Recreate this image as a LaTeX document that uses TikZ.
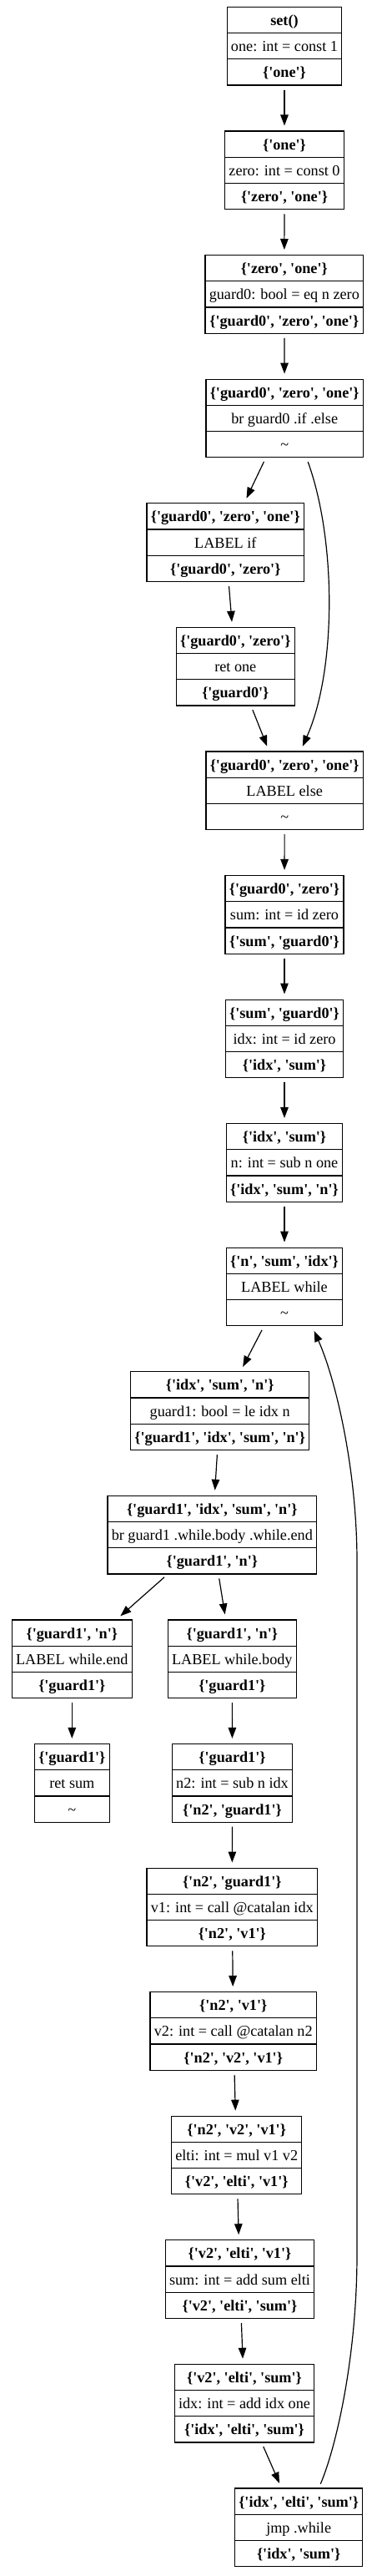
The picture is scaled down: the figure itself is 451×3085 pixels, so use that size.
\documentclass[tikz,border=0pt]{standalone}
\usepackage{fontspec}
\setmainfont{Liberation Serif}[Ligatures=TeXOff]
\usetikzlibrary{arrows.meta,shapes.multipart}
\def\rowstrut{\rule[-8.5pt]{0pt}{30pt}}
\newcommand{\rec}[3]{\rowstrut\textbf{#1}\nodepart{two}\rowstrut #2\nodepart{three}\rowstrut\textbf{#3}}

\begin{document}
\begin{tikzpicture}[x=1pt, y=1pt,
	record/.style={rectangle split, rectangle split parts=3, draw, line width=1.2pt, inner xsep=4.8pt, inner ysep=0pt, font=\fontsize{18.2}{22}\selectfont},
	edge/.style={line width=1.2pt, -{Triangle[length=13pt, width=9.5pt]}, shorten <=5pt, shorten >=6pt}]
		%%%%% START %%%%%
		
		\useasboundingbox (0, 0) rectangle (451, -3085);
		
		\node[record] (set0) at (341, -55.3) {\rec{set()}{one: int = const 1}{\{'one'\}}};
		\node[record] (one) at (341, -203.9) {\rec{\{'one'\}}{zero: int = const 0}{\{'zero', 'one'\}}};
		\node[record] (guardz) at (340.8, -352.4) {\rec{\{'zero', 'one'\}}{guard0: bool = eq n zero}{\{'guard0', 'zero', 'one'\}}};
		\node[record] (brz) at (341.2, -501) {\rec{\{'guard0', 'zero', 'one'\}}{br guard0 .if .else}{\textmd{\textasciitilde}}};
		
		\node[record] (lif) at (270.3, -649.6) {\rec{\{'guard0', 'zero', 'one'\}}{LABEL if}{\{'guard0', 'zero'\}}};
		\node[record] (retone) at (282.3, -798.2) {\rec{\{'guard0', 'zero'\}}{ret one}{\{'guard0'\}}};
		\node[record] (lelse) at (341.2, -946.7) {\rec{\{'guard0', 'zero', 'one'\}}{LABEL else}{\textmd{\textasciitilde}}};
		
		\node[record] (sum) at (341, -1095.3) {\rec{\{'guard0', 'zero'\}}{sum: int = id zero}{\{'sum', 'guard0'\}}};
		\node[record] (idx) at (341, -1243.9) {\rec{\{'sum', 'guard0'\}}{idx: int = id zero}{\{'idx', 'sum'\}}};
		\node[record] (nsub) at (341, -1392.4) {\rec{\{'idx', 'sum'\}}{n: int = sub n one}{\{'idx', 'sum', 'n'\}}};
		\node[record] (lwhile) at (341, -1541) {\rec{\{'n', 'sum', 'idx'\}}{LABEL while}{\textmd{\textasciitilde}}};
		
		\node[record] (guardo) at (263.7, -1689.6) {\rec{\{'idx', 'sum', 'n'\}}{guard1: bool = le idx n}{\{'guard1', 'idx', 'sum', 'n'\}}};
		\node[record] (bro) at (254.3, -1838.1) {\rec{\{'guard1', 'idx', 'sum', 'n'\}}{br guard1 .while.body .while.end}{\{'guard1', 'n'\}}};
		
		\node[record] (lend) at (86.3, -1986.7) {\rec{\{'guard1', 'n'\}}{LABEL while.end}{\{'guard1'\}}};
		\node[record] (retsum) at (86.3, -2135.3) {\rec{\{'guard1'\}}{ret sum}{\textmd{\textasciitilde}}};
		
		\node[record] (lbody) at (278.3, -1986.7) {\rec{\{'guard1', 'n'\}}{LABEL while.body}{\{'guard1'\}}};
		\node[record] (ntwo) at (278.5, -2135.3) {\rec{\{'guard1'\}}{n2: int = sub n idx}{\{'n2', 'guard1'\}}};
		\node[record] (vone) at (278.3, -2283.9) {\rec{\{'n2', 'guard1'\}}{v1: int = call @catalan idx}{\{'n2', 'v1'\}}};
		\node[record] (vtwo) at (279.7, -2432.4) {\rec{\{'n2', 'v1'\}}{v2: int = call @catalan n2}{\{'n2', 'v2', 'v1'\}}};
		\node[record] (elti) at (283.7, -2581) {\rec{\{'n2', 'v2', 'v1'\}}{elti: int = mul v1 v2}{\{'v2', 'elti', 'v1'\}}};
		\node[record] (sumadd) at (287.5, -2729.6) {\rec{\{'v2', 'elti', 'v1'\}}{sum: int = add sum elti}{\{'v2', 'elti', 'sum'\}}};
		\node[record] (idxadd) at (293, -2878.1) {\rec{\{'v2', 'elti', 'sum'\}}{idx: int = add idx one}{\{'idx', 'elti', 'sum'\}}};
		\node[record] (jmp) at (358.2, -3026.7) {\rec{\{'idx', 'elti', 'sum'\}}{jmp .while}{\{'idx', 'sum'\}}};
		
		\draw[edge] (set0) -- (one);
		\draw[edge] (one) -- (guardz);
		\draw[edge] (guardz) -- (brz);
		\draw[edge] (brz) -- (lif);
		\draw[edge] (lif) -- (retone);
		\draw[edge] (retone) -- (lelse);
		\draw[edge] (brz.-61) .. controls +(-70:105) and +(66:106) .. (lelse.68);
		
		\draw[edge] (lelse) -- (sum);
		\draw[edge] (sum) -- (idx);
		\draw[edge] (idx) -- (nsub);
		\draw[edge] (nsub) -- (lwhile);
		\draw[edge] (lwhile) -- (guardo);
		\draw[edge] (guardo) -- (bro);
		\draw[edge] (bro) -- (lend);
		\draw[edge] (bro) -- (lbody);
		\draw[edge] (lend) -- (retsum);
		\draw[edge] (lbody) -- (ntwo);
		\draw[edge] (ntwo) -- (vone);
		\draw[edge] (vone) -- (vtwo);
		\draw[edge] (vtwo) -- (elti);
		\draw[edge] (elti) -- (sumadd);
		\draw[edge] (sumadd) -- (idxadd);
		\draw[edge] (idxadd) -- (jmp);
		
		\coordinate (loopbot) at (428, -2700);
		\coordinate (looptop) at (428, -1870);
		\draw[edge] (jmp.63) .. controls +(67:55) and +(0, -120) .. (loopbot) -- (looptop) .. controls +(0, 110) and +(-66:70) .. (lwhile.-55);
		
		%%%%% END %%%%%
	\end{tikzpicture}
\end{document}
